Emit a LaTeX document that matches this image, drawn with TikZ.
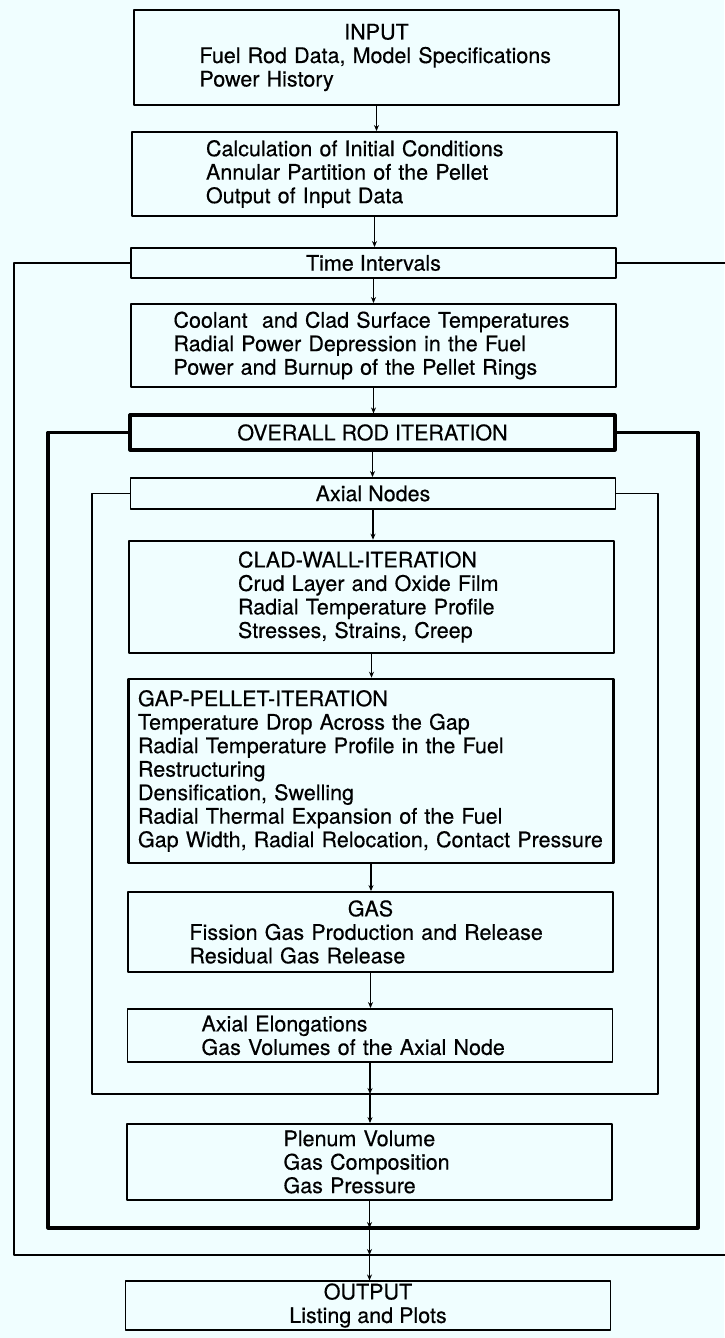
\documentclass[tikz,border=0pt]{standalone}
\usepackage{fontspec}
\setmainfont{TeX Gyre Heros}[FakeBold=0.4]
\usepackage{tikz}
\usetikzlibrary{arrows.meta,calc,positioning}
\definecolor{paper}{RGB}{240,254,255}
\setlength{\parindent}{0pt}
\hyphenpenalty=10000 \exhyphenpenalty=10000
\tikzset{
  box/.style={draw,line width=1.9pt,minimum width=485pt,inner sep=2pt},
  lbox/.style={box,text width=#1,align=left},
  cbox/.style={box,align=center},
  heavy/.style={line width=2.6pt},
  heavier/.style={line width=3.2pt},
  flow/.style={->,line width=1.8pt},
  loopline/.style={line width=1.8pt}
}
\begin{document}
\begin{tikzpicture}[x=1pt,y=-1pt,>={Stealth[length=6pt,width=5pt]},line join=round,font=\fontsize{21.5}{23.5}\selectfont]
\path[use as bounding box,fill=paper] (0,0) rectangle (724,1338);
% --- boxes, top to bottom
\node[lbox=354pt,minimum height=95pt] (inp) at (376.5,57.5) {\hfill INPUT\hfill\mbox{}\\Fuel Rod Data, Model Specifications\\Power History};
\node[lbox=337pt,minimum height=84pt] (calc) at (374.5,174) {Calculation of Initial Conditions\\Annular Partition of the Pellet\\Output of Input Data};
\node[cbox,minimum height=30pt] (ti) at (373.5,263) {Time Intervals};
\node[lbox=400pt,minimum height=83pt] (cool) at (373.5,345.5) {Coolant\ \ and Clad Surface Temperatures\\Radial Power Depression in the Fuel\\Power and Burnup of the Pellet Rings};
\node[cbox,heavier,minimum height=35pt] (ori) at (372.5,432.5) {OVERALL ROD ITERATION};
\node[cbox,minimum height=31pt] (an) at (373,493.5) {Axial Nodes};
\node[lbox=267pt,heavy,minimum height=112pt] (clad) at (371.5,597) {CLAD-WALL-ITERATION\\Crud Layer and Oxide Film\\Radial Temperature Profile\\Stresses, Strains, Creep};
\node[lbox=466pt,heavy,minimum height=184pt] (gap) at (371,771) {GAP-PELLET-ITERATION\\Temperature Drop Across the Gap\\Radial Temperature Profile in the Fuel\\Restructuring\\Densification, Swelling\\Radial Thermal Expansion of the Fuel\\Gap Width, Radial Relocation, Contact Pressure};
\node[lbox=362pt,minimum height=80pt] (gas) at (370.5,932) {\hfill GAS\hfill\mbox{}\\Fission Gas Production and Release\\Residual Gas Release};
\node[lbox=337pt,minimum height=53pt] (ae) at (370,1035.5) {Axial Elongations\\Gas Volumes of the Axial Node};
\node[lbox=172pt,minimum height=76pt] (plen) at (369.5,1162) {Plenum Volume\\Gas Composition\\Gas Pressure};
\node[cbox,minimum height=45pt] (out) at (368,1305.5) {OUTPUT\\Listing and Plots};
% --- iteration loops
\coordinate (sw1) at (14,1255); \coordinate (se1) at (730,1255);
\coordinate (sw2) at (48,1228); \coordinate (se2) at (698,1228);
\coordinate (sw3) at (92,1094); \coordinate (se3) at (658,1094);
\draw[loopline] (ti.west) -| (sw1) -- (se1) |- (ti.east);
\draw[heavier] (ori.west) -| (sw2) -- (se2) |- (ori.east);
\draw[line width=1.5pt] (an.west) -| (sw3) -- (se3) |- (an.east);
% --- main flow
\foreach \a/\b in {inp/calc,calc/ti,ti/cool,cool/ori,ori/an,an/clad,clad/gap,gap/gas,gas/ae} \draw[flow] (\a.south) -- (\a.south |- \b.north);
\coordinate (j3) at (ae.south |- sw3);
\coordinate (j2) at (plen.south |- sw2);
\coordinate (j1) at (plen.south |- sw1);
\draw[flow] (ae.south) -- (j3);
\draw[flow] (j3) -- (j3 |- plen.north);
\draw[flow] (plen.south) -- (j2);
\draw[flow] (j2) -- (j1);
\draw[flow] (j1) -- (j1 |- out.north);
\end{tikzpicture}
\end{document}
